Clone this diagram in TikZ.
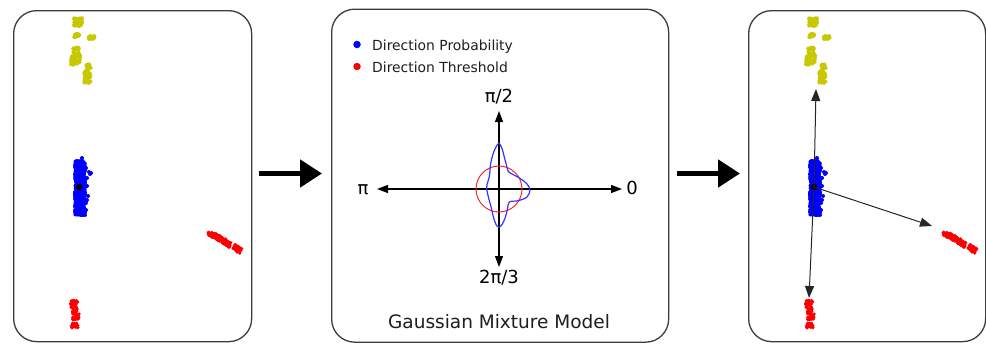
\documentclass[tikz,border=0pt]{standalone}
\usepackage{fontspec}
\setmainfont{DejaVu Sans}
\usetikzlibrary{arrows.meta}
\definecolor{ylw}{RGB}{200,200,0}
\definecolor{frame}{RGB}{60,60,60}
\definecolor{txt}{RGB}{30,30,30}
\tikzset{
  panel/.style={draw=frame, line width=1.3pt, rounded corners=23pt, fill=white},
  bigarrow/.style={line width=5pt, -{Triangle[length=22pt,width=27pt]}},
  axisarrow/.style={line width=1.2pt, -{Triangle[length=11pt,width=8pt]}},
  vecarrow/.style={line width=1pt, black!85, -{Triangle[length=12pt,width=9pt]}},
  legtext/.style={anchor=base west, inner sep=0pt, text=txt, font=\fontsize{13.9}{16}\selectfont},
  axlabel/.style={anchor=base, inner sep=0pt, font=\fontsize{18}{21}\selectfont},
  scatter/.pic={
    \pgfmathsetseed{12345}
    % yellow clusters
    \foreach \cx/\cy/\w/\h/\n in {78/22/4.2/4.5/70, 76.5/35.5/3/1.8/25, 91.5/37.5/3.5/1.8/25, 76/51/3.2/4/35, 75.5/60/5/5/55, 88.5/67/2.5/3/30, 87.5/77/3.5/6.5/60}{
      \foreach \i in {1,...,\n}{
        \fill[ylw] (\cx+\w*rand, \cy+\h*rand) circle[radius=1.9pt];
      }
    }
    % blue cluster
    \foreach \i in {1,...,520}{
      \fill[blue] (80+5*rand, 188+27*rand) circle[radius=2pt];
    }
    \foreach \cx/\cy in {89/172, 91/173, 87/178, 87/186, 88/196, 86/203, 86/210, 75/165, 82/158, 85/215, 90/174, 86/168, 87/200}{
      \fill[blue] (\cx,\cy) circle[radius=2pt];
    }
    % red right strip
    \foreach \i in {1,...,130}{
      \pgfmathsetmacro\tt{0.34+0.34*rand}
      \pgfmathsetmacro\ss{2.6*rand}
      \fill[red] ({208+33*\tt-0.5*\ss}, {232+19*\tt+0.866*\ss}) circle[radius=1.8pt];
    }
    \foreach \i in {1,...,45}{
      \pgfmathsetmacro\tt{0.89+0.11*rand}
      \pgfmathsetmacro\ss{2.8*rand}
      \fill[red] ({208+33*\tt-0.5*\ss}, {232+19*\tt+0.866*\ss}) circle[radius=1.8pt];
    }
    % red bottom strip
    \foreach \cx/\cy/\w/\h/\n in {74/305/3.5/4.5/40, 76/315/3.5/4.5/40, 74.5/325.5/3.5/2.5/28}{
      \foreach \i in {1,...,\n}{
        \fill[red] (\cx+\w*rand, \cy+\h*rand) circle[radius=1.8pt];
      }
    }
  }
}
\begin{document}
\begin{tikzpicture}[x=1pt,y=-1pt]
\useasboundingbox (0,0) rectangle (986,343);
\fill[white] (0,0) rectangle (986,343);
% panels
\node[panel, minimum width=238pt, minimum height=331pt, anchor=north west] (p1) at (13,10) {};
\node[panel, minimum width=337pt, minimum height=333pt, anchor=north west] (p2) at (331,8.5) {};
\node[panel, minimum width=237pt, minimum height=331pt, anchor=north west] (p3) at (748,10) {};
% big arrows
\coordinate (a1s) at (259,173.5);
\coordinate (a1e) at (322,173.5);
\coordinate (a2s) at (677,173.5);
\coordinate (a2e) at (740,173.5);
\draw[bigarrow] (a1s) -- (a1e);
\draw[bigarrow] (a2s) -- (a2e);
% scatters
\pic (s1) at (0,0) {scatter};
\pic (s3) at (735,0) {scatter};
\node[circle, fill=black, inner sep=0pt, minimum size=6.5pt] (d1) at (79,187) {};
% panel 3 vectors
\node[circle, fill=black, inner sep=0pt, minimum size=6.5pt] (d3) at (814,187) {};
\coordinate (vup) at (816,89);
\coordinate (vdn) at (809,298);
\coordinate (vrt) at (932,226);
\draw[vecarrow] (d3.center) -- (vup);
\draw[vecarrow] (d3.center) -- (vdn);
\draw[vecarrow] (d3.center) -- (vrt);
% legend
\node[circle, fill=blue, inner sep=0pt, minimum size=7.5pt] (lb) at (357,44.5) {};
\node[legtext] (lbt) at (372,50) {Direction Probability};
\node[circle, fill=red, inner sep=0pt, minimum size=7.5pt] (lr) at (357,66.5) {};
\node[legtext] (lrt) at (372,72) {Direction Threshold};
% axes
\coordinate (c) at (499,189);
\coordinate (ax0) at (622,189);
\coordinate (axpi) at (377,189);
\coordinate (axup) at (499,111);
\coordinate (axdn) at (499,267);
\draw[axisarrow] (c) -- (ax0);
\draw[axisarrow] (c) -- (axpi);
\draw[axisarrow] (c) -- (axup);
\draw[axisarrow] (c) -- (axdn);
\node[axlabel] (l0) at (632,194.5) {0};
\node[axlabel] (lpi) at (363,194.5) {π};
\node[axlabel] (lup) at (499,102) {π/2};
\node[axlabel] (ldn) at (499,283) {2π/3};
% threshold circle
\draw[red!85!white, line width=1pt] (c) circle[radius=23pt];
% probability curve
\draw[blue!80!white, line width=1.2pt, shift={(499,189)}] plot[smooth cycle, tension=0.55] coordinates {
  (0,-45.7) (3.2,-40) (5,-33) (7,-25.7) (9.3,-17.5) (12,-15.5) (21,-10.7) (28,-5) (31,1) (28,8) (19.3,11.7) (10.3,13)
  (8.5,20) (6,29.3) (3,35.5) (0,38.3) (-3,35.5) (-5.7,27.7) (-8,17.7) (-10.7,7.7) (-12.3,-2.3) (-9.7,-12.3) (-8.3,-25.7) (-5.7,-35.7) (-3,-42)
};
% title
\node[anchor=base, inner sep=0pt, text=txt, font=\fontsize{18.5}{22}\selectfont] (title) at (499,328) {Gaussian Mixture Model};
\end{tikzpicture}
\end{document}
